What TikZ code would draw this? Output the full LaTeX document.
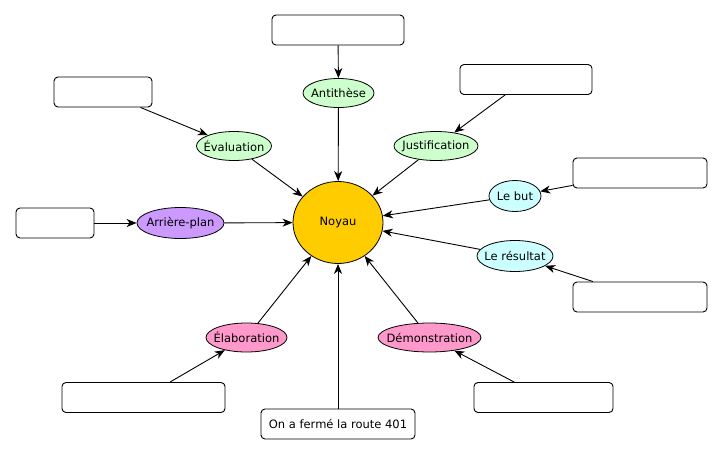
\documentclass[tikz,border=0pt]{standalone}
\usepackage{fontspec}
\setmainfont{DejaVu Sans}
\usetikzlibrary{shapes.geometric,arrows.meta}

\begin{document}
\begin{tikzpicture}[x=1pt, y=-1pt,
  every node/.style={font=\fontsize{11.5}{13}\selectfont},
  oval/.style={ellipse, draw, line width=0.8pt, inner sep=0pt,
    execute at begin node={\hbox to 0pt\bgroup\hss},
    execute at end node={\hss\egroup}},
  blank/.style={draw, rounded corners=4pt, line width=0.9pt, fill=white,
    minimum height=30pt, inner sep=0pt},
  arr/.style={-{Stealth[length=10pt,width=8pt,inset=3pt]}, line width=0.9pt}]
\definecolor{noyauyellow}{RGB}{255,204,0}
\definecolor{softgreen}{RGB}{204,255,204}
\definecolor{softcyan}{RGB}{204,255,255}
\definecolor{softpurple}{RGB}{204,153,255}
\definecolor{softpink}{RGB}{255,153,204}
\useasboundingbox (0,0) rectangle (723,455);
% Centre
\node[ellipse, draw, line width=0.8pt, fill=noyauyellow, inner sep=0pt,
  minimum width=90pt, minimum height=82pt] (noyau) at (338,222.5) {Noyau};
% Satellites: {name, label, colour, ellipse x/y/w/h, box x/y/w}
\foreach \nm/\txt/\col/\ex/\ey/\ew/\eh/\bx/\by/\bw in {
  anti/Antithèse/softgreen/338.5/93/71/29/338/30/132,
  eval/Évaluation/softgreen/234/146/75/29/103/92/98,
  just/Justification/softgreen/436/146/84/29/526/79.5/132,
  but/Le but/softcyan/515/196/52/31/640/173/134,
  res/Le résultat/softcyan/515/256/76/31/640/297/134,
  fond/Arrière-plan/softpurple/180.5/223/87/31/55/223/78,
  elab/Élaboration/softpink/246.5/337.5/81/29/143.5/397.5/163,
  demo/Démonstration/softpink/429.5/337.5/103/29/543.5/397.5/139%
} {
  \node[oval, fill=\col, minimum width=\ew pt, minimum height=\eh pt] (e\nm) at (\ex,\ey) {\txt};
  \node[blank, minimum width=\bw pt] (b\nm) at (\bx,\by) {};
  % Box to satellite, satellite to centre
  \draw[arr] (b\nm) -- (e\nm);
  \draw[arr] (e\nm) -- (noyau);
}
% Bottom statement
\node[blank, minimum width=154pt] (route) at (338,424) {On a fermé la route 401};
\draw[arr] (route) -- (noyau);
\end{tikzpicture}
\end{document}
